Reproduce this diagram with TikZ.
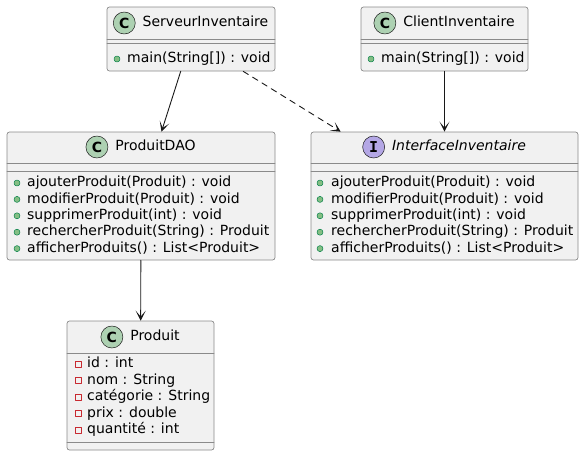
\documentclass[tikz,border=0pt]{standalone}
\usepackage{fontspec}
\setmainfont{DejaVu Sans}
\setmonofont{DejaVu Sans Mono}
\usetikzlibrary{arrows.meta}
\usetikzlibrary{positioning}
\definecolor{boxfill}{HTML}{F1F1F1}
\definecolor{boxline}{HTML}{8A8A8A}
\definecolor{linecol}{HTML}{181818}
\definecolor{classgreen}{HTML}{ADD1B2}
\definecolor{ifacepurple}{HTML}{B4A7E5}
\definecolor{pubfill}{HTML}{84BE84}
\definecolor{pubdraw}{HTML}{038048}
\definecolor{privdraw}{HTML}{C82930}
\newcommand{\umlfont}{\fontsize{14}{16}\selectfont}
\tikzset{
  classbox/.style={draw=boxline, fill=boxfill, rounded corners=2.5pt, line width=0.7pt, inner sep=0pt},
  classicon/.style={circle, draw=linecol, fill=classgreen, line width=0.5pt, minimum size=22pt, inner sep=0pt, font=\fontsize{14}{14}\selectfont\bfseries},
  ifaceicon/.style={classicon, fill=ifacepurple, font=\fontsize{15}{15}\selectfont\ttfamily\bfseries},
  title/.style={inner sep=0pt, text height=10.5pt, text depth=3pt, font=\umlfont},
  member/.style={anchor=west, inner sep=0pt, text height=10.5pt, text depth=3pt, font=\umlfont},
  pubdot/.style={circle, draw=pubdraw, fill=pubfill, line width=0.5pt, minimum size=6pt, inner sep=0pt},
  privsq/.style={rectangle, draw=privdraw, line width=0.8pt, minimum size=6pt, inner sep=0pt},
  sep/.style={draw=boxline, line width=0.7pt},
  assoc/.style={draw=linecol, line width=0.9pt, -{Stealth[length=10pt,width=10pt,inset=6pt]}},
  depend/.style={assoc, dash pattern=on 6pt off 5pt},
}
\begin{document}
\begin{tikzpicture}[x=1pt,y=-1pt,line cap=round,line join=round]
    \useasboundingbox (0,0) rectangle (584,456);
    \node[classbox, minimum width=168pt, minimum height=64pt] (serveur) at (191,39) {};
    \node[classbox, minimum width=167pt, minimum height=64pt] (client) at (444.5,39) {};
    \node[classbox, minimum width=268pt, minimum height=128pt] (dao) at (141,196) {};
    \node[classbox, minimum width=267pt, minimum height=128pt] (iface) at (444.5,196) {};
    \node[classbox, minimum width=147pt, minimum height=129pt] (produit) at (140.5,385.5) {};
    \node[title] (serveur-name) at (205.5,23) {ServeurInventaire};
    \node[classicon, left=7pt of serveur-name] (serveur-icon) {C};
    \node[title] (client-name) at (459,23) {ClientInventaire};
    \node[classicon, left=7pt of client-name] (client-icon) {C};
    \node[title] (dao-name) at (155.5,147) {ProduitDAO};
    \node[classicon, left=7pt of dao-name] (dao-icon) {C};
    \node[title] (iface-name) at (459,147) {\itshape InterfaceInventaire};
    \node[ifaceicon, left=7pt of iface-name] (iface-icon) {I};
    \node[title] (produit-name) at (155,337) {Produit};
    \node[classicon, left=7pt of produit-name] (produit-icon) {C};
    \draw[sep] (107,39.5) -- (275,39.5);
    \draw[sep] (107,43.5) -- (275,43.5);
    \draw[sep] (361,39.5) -- (528,39.5);
    \draw[sep] (361,43.5) -- (528,43.5);
    \draw[sep] (7,163.5) -- (275,163.5);
    \draw[sep] (7,171.5) -- (275,171.5);
    \draw[sep] (311,163.5) -- (578,163.5);
    \draw[sep] (311,171.5) -- (578,171.5);
    \draw[sep] (67,353.5) -- (214,353.5);
    \draw[sep] (67,442.5) -- (214,442.5);
    \node[pubdot] (serveur-v1) at (117,59) {};
    \node[member] (serveur-m1) at (127,59) {main(String[]) : void};
    \node[pubdot] (client-v1) at (371,59) {};
    \node[member] (client-m1) at (381,59) {main(String[]) : void};
    \foreach \m [count=\i] in {{ajouterProduit(Produit) : void},{modifierProduit(Produit) : void},{supprimerProduit(int) : void},{rechercherProduit(String) : Produit},{afficherProduits() : List<Produit>}}{
      \node[pubdot] (dao-v\i) at (17,{183+(\i-1)*16.4}) {};
      \node[member] (dao-m\i) at (27,{183+(\i-1)*16.4}) {\m};
      \node[pubdot] (iface-v\i) at (320,{183+(\i-1)*16.4}) {};
      \node[member] (iface-m\i) at (331,{183+(\i-1)*16.4}) {\m};
    }
    \foreach \a [count=\i] in {{id : int},{nom : String},{catégorie : String},{prix : double},{quantité : int}}{
      \node[privsq] (produit-v\i) at (78,{364+(\i-1)*16.5}) {};
      \node[member] (produit-m\i) at (87,{364+(\i-1)*16.5}) {\a};
    }
    \draw[assoc] (serveur) -- (dao);
    \draw[depend] (serveur) -- (iface);
    \draw[assoc] (client) -- (iface);
    \draw[assoc] (dao) -- (produit);
\end{tikzpicture}
\end{document}
